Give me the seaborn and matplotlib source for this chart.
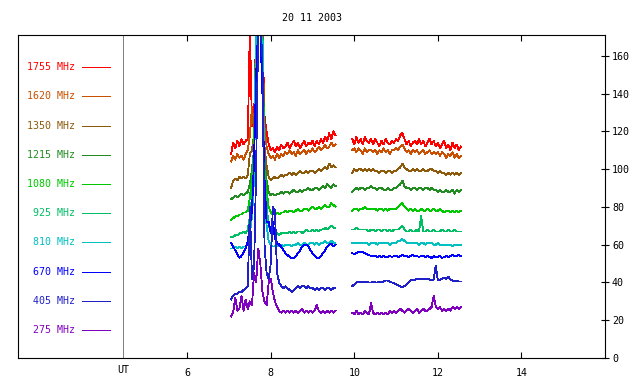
import numpy as np
import pandas as pd
import seaborn as sns
import matplotlib.pyplot as plt
from matplotlib.transforms import blended_transform_factory

plt.rcParams['font.family'] = ['DejaVu Sans Mono']

title = '20 11 2003'
freqs = ['1755 MHz', '1620 MHz', '1350 MHz', '1215 MHz', '1080 MHz',
         '925 MHz', '810 MHz', '670 MHz', '405 MHz', '275 MHz']
colors = ['#ff0000', '#c85000', '#8c5a0a', '#228b22', '#00c800',
          '#00be64', '#00c0c0', '#0000ff', '#2020c8', '#8000c0']

# UT hours of the samples, two observing runs with a gap between them
ut_run1 = np.linspace(7.05, 9.55, 51)
ut_run2 = np.linspace(9.95, 12.55, 53)

# flux values (175 = off scale during the flare)
f1755_run1 = [108, 114, 111, 115, 112, 116, 113, 115,
              116, 175, 123, 126, 175, 175, 175, 175, 128, 120, 113, 110,
              111, 109, 112, 110, 113, 111, 112,
              114, 111, 113, 115, 112, 114, 111, 113, 115, 112, 114, 113, 115, 112,
              115, 113, 116, 114, 117, 115, 119, 116, 120, 118]
f1755_run2 = [116, 113, 117, 114, 116, 113, 117, 115, 114, 116,
              113, 116, 114, 112, 115, 113, 116, 114, 113, 115,
              114, 116, 115, 118, 119, 116, 113, 115, 112, 114,
              115, 113, 116, 113, 115, 112, 114, 116, 113, 115,
              112, 114, 111, 113, 115, 111, 113, 110, 114, 111,
              113, 110, 112]

f1620_run1 = [104, 107, 105, 108, 106, 107, 105, 108,
              110, 118, 133, 120, 175, 175, 175, 175, 122, 112, 108, 106,
              107, 105, 108, 106, 108, 107, 109,
              108, 110, 108, 109, 107, 110, 108, 109, 110, 108, 110, 109, 111, 109,
              110, 112, 110, 111, 113, 111, 112, 114, 112, 113]
f1620_run2 = [110, 111, 109, 111, 110, 108, 111, 109, 110, 110,
              109, 110, 108, 110, 109, 111, 109, 110, 108, 110,
              110, 111, 110, 112, 113, 111, 109, 110, 108, 110,
              109, 110, 108, 109, 110, 108, 109, 110, 108, 109,
              108, 109, 107, 109, 108, 106, 108, 107, 109, 106,
              108, 106, 107]

f1350_run1 = [90, 94, 95, 94, 96, 95, 96, 95,
              97, 108, 110, 118, 175, 175, 175, 175, 112, 102, 96, 94,
              95, 96, 95, 96, 97, 96, 97,
              97, 98, 97, 98, 97, 98, 99, 98, 98, 99, 98, 99, 99, 98,
              99, 100, 99, 100, 101, 100, 103, 101, 102, 101]
f1350_run2 = [98, 100, 99, 100, 100, 99, 100, 99, 100, 99,
              100, 99, 99, 98, 99, 99, 98, 99, 99, 98,
              99, 99, 100, 101, 103, 101, 100, 99, 99, 100,
              99, 100, 99, 99, 100, 99, 99, 100, 100, 99,
              99, 98, 99, 98, 98, 97, 98, 97, 98, 97,
              98, 97, 98]

f1215_run1 = [84, 85, 86, 85, 86, 87, 86, 87,
              88, 92, 100, 110, 175, 175, 175, 175, 105, 94, 88, 86,
              87, 86, 87, 87, 88, 87, 88,
              88, 87, 88, 89, 88, 88, 89, 88, 89, 89, 90, 89, 89, 90,
              90, 89, 90, 91, 90, 92, 91, 90, 92, 91]
f1215_run2 = [88, 89, 90, 89, 90, 90, 89, 90, 90, 91,
              90, 90, 89, 90, 90, 89, 89, 90, 89, 89,
              90, 90, 91, 92, 94, 91, 90, 90, 89, 90,
              90, 89, 90, 90, 89, 90, 90, 89, 90, 89,
              89, 88, 89, 88, 88, 89, 88, 88, 89, 87,
              89, 88, 89]

f1080_run1 = [73, 74, 75, 75, 76, 76, 77, 77,
              78, 85, 95, 110, 175, 175, 175, 175, 100, 88, 80, 77,
              76, 76, 77, 76, 77, 77, 78,
              77, 78, 78, 77, 78, 79, 78, 78, 79, 79, 78, 79, 80, 79,
              79, 80, 79, 80, 81, 80, 80, 82, 81, 80]
f1080_run2 = [78, 79, 79, 78, 79, 79, 80, 79, 79, 79,
              79, 79, 78, 79, 79, 78, 79, 78, 79, 79,
              79, 79, 80, 81, 82, 80, 79, 78, 79, 78,
              79, 78, 78, 79, 78, 78, 79, 78, 78, 79,
              78, 78, 79, 78, 77, 78, 78, 77, 78, 77,
              78, 77, 78]

f925_run1 = [64, 64, 65, 65, 66, 66, 67, 66,
             68, 75, 85, 100, 175, 175, 175, 175, 95, 80, 70, 67,
             66, 65, 66, 65, 66, 66, 66,
             66, 67, 66, 67, 66, 67, 67, 66, 67, 68, 67, 67, 68, 67,
             68, 67, 68, 68, 69, 68, 69, 70, 69, 69]
f925_run2 = [68, 68, 69, 68, 68, 68, 68, 68, 67, 68,
             68, 67, 68, 68, 67, 68, 68, 67, 68, 67,
             68, 68, 68, 69, 70, 68, 67, 67, 68, 67,
             67, 68, 67, 75, 67, 67, 68, 67, 67, 68,
             67, 67, 67, 68, 67, 67, 68, 67, 67, 68,
             67, 67, 67]

f810_run1 = [58, 58, 59, 58, 59, 58, 59, 59,
             60, 66, 75, 95, 175, 175, 175, 175, 85, 70, 62, 60,
             59, 59, 60, 59, 60, 59, 60,
             60, 60, 59, 60, 60, 61, 60, 60, 61, 60, 60, 61, 61, 60,
             61, 60, 61, 61, 62, 61, 61, 62, 61, 61]
f810_run2 = [61, 61, 61, 61, 61, 61, 61, 61, 60, 61,
             61, 61, 60, 61, 61, 61, 61, 61, 60, 61,
             61, 61, 62, 62, 63, 62, 61, 61, 61, 61,
             61, 61, 60, 61, 61, 60, 61, 61, 61, 60,
             60, 61, 60, 60, 60, 60, 60, 60, 59, 60,
             60, 60, 60]

f670_run1 = [61, 59, 57, 55, 53, 54, 56, 58,
             62, 70, 78, 105, 150, 175, 175, 140, 95, 72, 72, 66,
             72, 63, 61, 60, 59, 57, 55.5,
             54.5, 53.5, 53, 53, 54, 55.5, 57, 59, 60, 60, 59, 57, 55.5, 54,
             53, 53, 54, 55.5, 57, 59, 60, 60.5, 59, 60]
f670_run2 = [55.5, 55, 55.5, 56, 56, 56, 55.5, 55, 54.5, 54,
             54, 54, 53.5, 54, 53.5, 54, 53.5, 53.5, 54, 53.5,
             54, 54, 53.5, 54, 54.5, 54, 54, 53.5, 54, 54.5,
             54, 54, 53.5, 54, 54, 53.5, 54, 53.5, 53, 54,
             53.5, 53.5, 54, 53, 53.5, 54, 53.5, 54, 54.5, 54,
             54, 54.5, 54]

f405_run1 = [31, 33, 34, 34, 35, 35, 36, 37,
             38, 80, 42, 48, 100, 175, 175, 160, 60, 45, 42, 50,
             80, 78, 45, 40, 38, 37, 38,
             37, 36, 35, 36, 37, 38, 37, 38, 38, 37, 38, 37, 37, 36,
             37, 36, 37, 37, 36, 37, 37, 36, 37, 37]
f405_run2 = [38, 39, 40, 40.5, 40, 40.5, 40, 40.5, 40, 40,
             40.5, 40, 40, 40.5, 40, 40.5, 41, 41, 40.5, 40,
             39.5, 39, 38.5, 38, 37.5, 38, 39, 40, 41, 41.5,
             41.5, 42, 41.5, 42, 41.5, 42, 42, 41.5, 41, 41.5,
             49, 41, 41.5, 42, 42.5, 42, 43, 41.5, 41, 40.5,
             41, 40.5, 40.5]

f275_run1 = [22, 24, 32, 25, 26, 33, 25, 31,
             26, 30, 28, 45, 40, 58, 50, 35, 30, 28, 40, 42,
             35, 30, 27, 25, 24, 25, 24,
             25, 24, 25, 24, 25, 24, 25, 26, 24, 25, 24, 25, 24, 25,
             28, 25, 24, 25, 24, 25, 24, 25, 24, 25]
f275_run2 = [24, 23, 25, 23, 24, 23, 25, 24, 23, 29,
             24, 23, 24, 23, 24, 23, 24, 23, 25, 24,
             25, 24, 25, 26, 25, 24, 25, 26, 25, 24,
             25, 26, 24, 25, 26, 25, 25, 26, 27, 33,
             27, 26, 27, 25, 26, 25, 26, 25, 27, 26,
             27, 26, 27]

runs = {
    '1755 MHz': (f1755_run1, f1755_run2),
    '1620 MHz': (f1620_run1, f1620_run2),
    '1350 MHz': (f1350_run1, f1350_run2),
    '1215 MHz': (f1215_run1, f1215_run2),
    '1080 MHz': (f1080_run1, f1080_run2),
    '925 MHz': (f925_run1, f925_run2),
    '810 MHz': (f810_run1, f810_run2),
    '670 MHz': (f670_run1, f670_run2),
    '405 MHz': (f405_run1, f405_run2),
    '275 MHz': (f275_run1, f275_run2),
}

parts = []
for freq in freqs:
    r1, r2 = runs[freq]
    parts.append(pd.DataFrame({'UT': ut_run1, 'flux': r1, 'freq': freq, 'run': 1}))
    parts.append(pd.DataFrame({'UT': ut_run2, 'flux': r2, 'freq': freq, 'run': 2}))
df = pd.concat(parts, ignore_index=True)

fig = plt.figure(figsize=(6.4, 3.84), dpi=100)
ax = fig.add_axes([18 / 640, 1 - 358 / 384, 587 / 640, 323 / 384])

sns.lineplot(data=df, x='UT', y='flux', hue='freq', hue_order=freqs,
             palette=dict(zip(freqs, colors)), units='run', estimator=None,
             sort=False, legend=False, linewidth=0.6, antialiased=False, ax=ax)

ax.set_xlim(1.95, 16.0)
ax.set_ylim(0, 171)
ax.axvline(4.47, color='#808080', lw=0.6, antialiased=False)

ax.set_xticks([6, 8, 10, 12, 14])
ax.set_yticks(range(0, 161, 20))
ax.yaxis.tick_right()
ax.tick_params(axis='x', direction='in', top=True, length=4, width=0.8,
               labelsize=7.2, pad=7)
ax.tick_params(axis='y', direction='inout', length=6, width=0.8,
               labelsize=7.2, pad=2, left=False, right=True)
ax.set_xlabel('')
ax.set_ylabel('')
for sp in ax.spines.values():
    sp.set_linewidth(0.8)

ax.set_title(title, fontsize=7.2, pad=10)

trans = blended_transform_factory(ax.transData, ax.transAxes)
ax.text(4.47, -0.037, 'UT', transform=trans, ha='center', va='center', fontsize=7.2)

# legend on the left: label then a short line in the series colour
for k, (freq, col) in enumerate(zip(freqs, colors)):
    yf = 0.9 - 0.0904 * k
    ax.text(3.32, yf, freq, transform=trans, ha='right', va='center',
            color=col, fontsize=7.2)
    ax.plot([3.49, 4.16], [yf, yf], transform=trans, color=col, lw=0.6,
            antialiased=False)

fig.savefig('out.png', dpi=100)
